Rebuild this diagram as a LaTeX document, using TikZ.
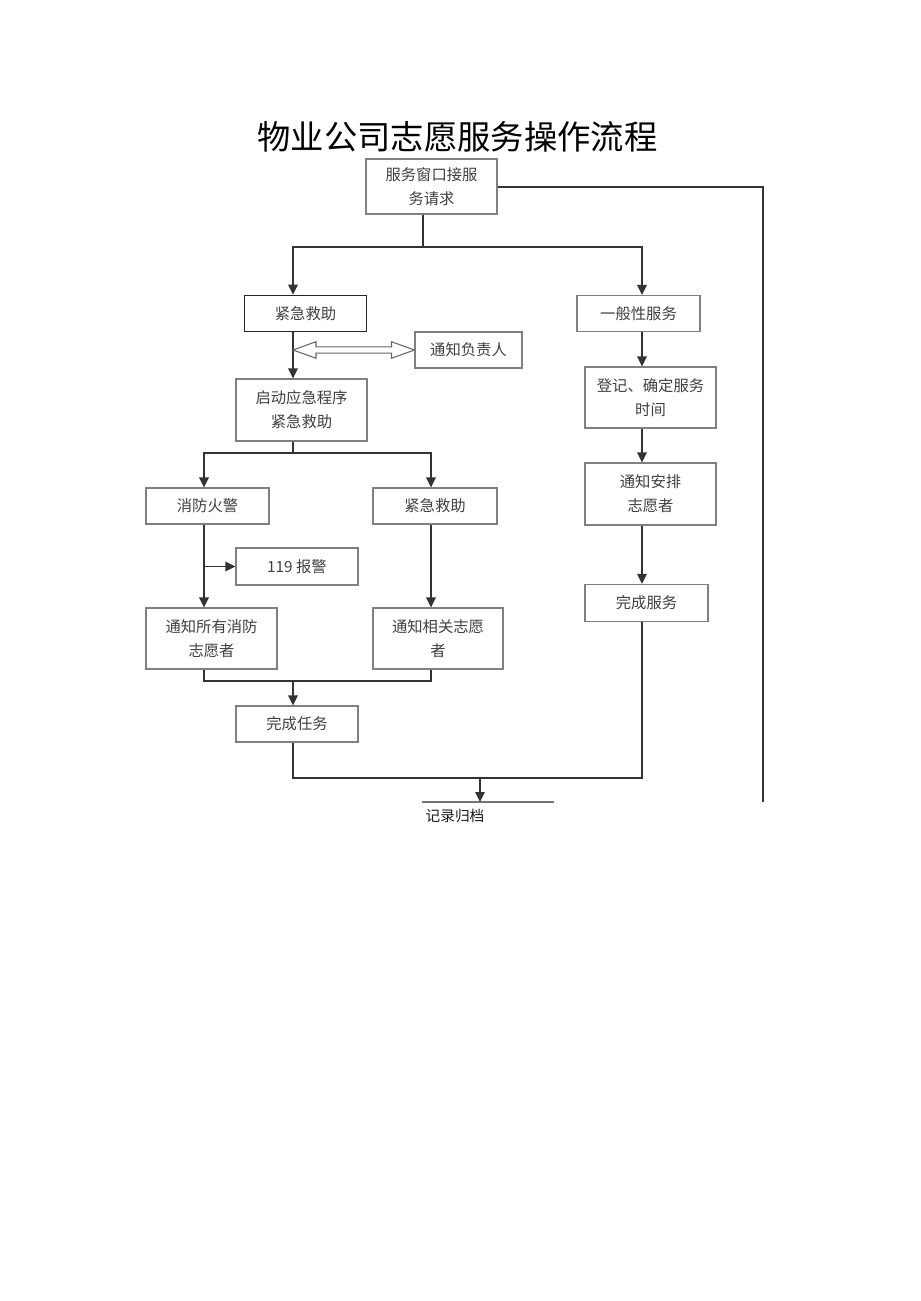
\documentclass[tikz,border=0pt]{standalone}
\usepackage{fontspec}
\setmainfont{Noto Sans CJK SC}
\usetikzlibrary{arrows.meta,calc}
\begin{document}
\begin{tikzpicture}[x=0.75pt,y=-0.75pt,
  box/.style={draw=black!50,line width=0.8pt,fill=white,text=black!75,align=center,
    font=\fontsize{11.5}{18}\selectfont,inner sep=0pt},
  boldbox/.style={box,draw=black!85,line width=1.2pt},
  conn/.style={draw=black!80,line width=1.3pt},
  arr/.style={conn,-{Triangle[length=7.5pt,width=7pt]}}]
\useasboundingbox (0,0) rectangle (920,1301);
% title
\node[font=\fontsize{25}{30}\selectfont,text=black] (title) at (457.5,137) {物业公司志愿服务操作流程};
% boxes
\node[box,minimum width=131*0.75pt,minimum height=55*0.75pt] (top) at (431.5,186.5) {服务窗口接服\\务请求};
\node[boldbox,minimum width=122*0.75pt,minimum height=36*0.75pt] (em1) at (305.5,313.5) {紧急救助};
\node[box,minimum width=123*0.75pt,minimum height=36*0.75pt] (gen) at (638.5,313.5) {一般性服务};
\node[box,minimum width=107*0.75pt,minimum height=36*0.75pt] (notify) at (468.5,350) {通知负责人};
\node[box,minimum width=131*0.75pt,minimum height=62*0.75pt] (start) at (301.5,410) {启动应急程序\\紧急救助};
\node[box,minimum width=123*0.75pt,minimum height=36*0.75pt] (fire) at (207.5,506) {消防火警};
\node[box,minimum width=124*0.75pt,minimum height=36*0.75pt] (em2) at (435,506) {紧急救助};
\node[box,minimum width=122*0.75pt,minimum height=37*0.75pt] (b119) at (297,566.5) {119 报警};
\node[box,minimum width=131*0.75pt,minimum height=61*0.75pt] (nall) at (211.5,638.5) {通知所有消防\\志愿者};
\node[box,minimum width=130*0.75pt,minimum height=61*0.75pt] (nrel) at (438,638.5) {通知相关志愿\\者};
\node[box,minimum width=122*0.75pt,minimum height=36*0.75pt] (done) at (297,724) {完成任务};
\node[box,minimum width=131*0.75pt,minimum height=61*0.75pt] (reg) at (650.5,397.5) {登记、确定服务\\时间};
\node[box,minimum width=131*0.75pt,minimum height=62*0.75pt] (arrange) at (650.5,494) {通知安排\\志愿者};
\node[box,minimum width=123*0.75pt,minimum height=37*0.75pt] (fin) at (646.5,603) {完成服务};
% archive
\coordinate (archL) at (422,802);
\coordinate (archR) at (554,802);
\draw[draw=black!55,line width=0.8pt] (archL) -- (archR);
\node[font=\fontsize{11}{13}\selectfont,text=black!90,anchor=north] (arch) at (455,804) {记录归档};
% guide coordinates
\coordinate (xa) at (423,247);
\coordinate (xl) at (293,247);
\coordinate (xr) at (642,247);
\coordinate (ya) at (293,453);
\coordinate (xf) at (204,453);
\coordinate (xe) at (431,453);
\coordinate (yj) at (293,681);
\coordinate (yb) at (480,778);
\coordinate (farR) at (763,187);
\coordinate (farEnd) at (763,802);
% top split
\draw[conn] (top.south -| xa) -- (xa);
\draw[arr] (xa) -- (xl) -- (em1.north -| xl);
\draw[arr] (xa) -- (xr) -- (gen.north -| xr);
% right long line
\draw[conn] (top.east |- farR) -- (farR) -- (farEnd);
% emergency column
\draw[arr] (em1.south -| xl) -- (start.north -| xl);
% hollow double arrow
\path let \p1=(notify.west) in coordinate (da) at (293,\y1);
\draw[draw=black!60,line width=0.8pt,fill=white]
  let \p1=(da), \p2=(notify.west) in
  (\x1,\y1) -- ++(17.25pt,6.2pt) -- ++(0,-3.9pt) -- (\x2-17.25pt,\y1+2.3pt) -- ++(0,3.9pt)
  -- (\x2,\y2) -- ++(-17.25pt,-6.2pt) -- ++(0,3.9pt) -- (\x1+17.25pt,\y1-2.3pt) -- ++(0,-3.9pt) -- cycle;
% start split
\draw[conn] (start.south -| ya) -- (ya);
\draw[arr] (ya) -- (xf) -- (fire.north -| xf);
\draw[arr] (ya) -- (xe) -- (em2.north -| xe);
% fire column
\draw[arr] (fire.south -| xf) -- (nall.north -| xf);
\draw[arr] (b119.west -| xf) -- (b119.west);
\draw[arr] (em2.south -| xe) -- (nrel.north -| xe);
% join
\draw[conn] (nall.south -| xf) -- (xf |- yj) -- (xe |- yj) -- (nrel.south -| xe);
\draw[arr] (yj) -- (done.north -| yj);
% general column
\draw[arr] (gen.south -| xr) -- (reg.north -| xr);
\draw[arr] (reg.south -| xr) -- (arrange.north -| xr);
\draw[arr] (arrange.south -| xr) -- (fin.north -| xr);
% bottom join
\draw[conn] (done.south -| xl) -- (xl |- yb) -- (xr |- yb) -- (fin.south -| xr);
\draw[arr] (yb) -- (archL -| yb);
\end{tikzpicture}
\end{document}
